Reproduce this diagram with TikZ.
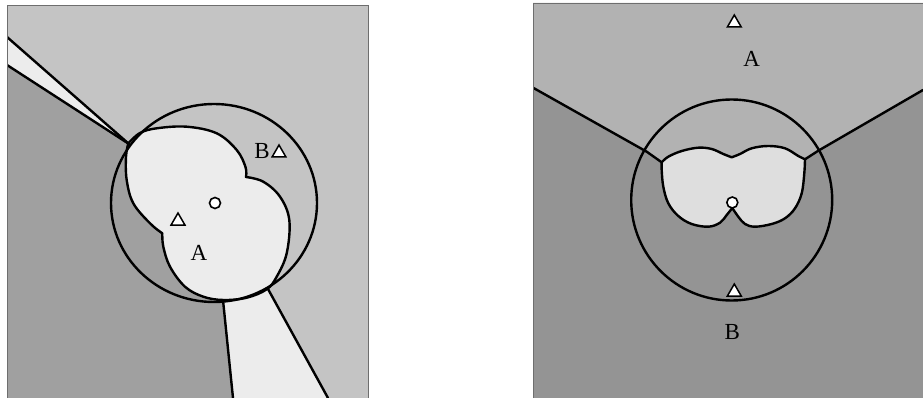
\documentclass[tikz,border=0pt]{standalone}
\usepackage{fontspec}
\setmainfont{Liberation Serif}
\usetikzlibrary{shapes.geometric}
\definecolor{lbg}{RGB}{196,196,196}
\definecolor{ldark}{RGB}{160,160,160}
\definecolor{dotw}{RGB}{236,236,236}
\definecolor{rA}{RGB}{178,178,178}
\definecolor{rB}{RGB}{148,148,148}
\definecolor{rblob}{RGB}{222,222,222}
\definecolor{frame}{RGB}{110,110,110}
\tikzset{
  edge/.style={line width=2.4pt, line join=round, line cap=round},
  tri/.style={regular polygon, regular polygon sides=3, draw, fill=white, inner sep=0pt, minimum size=16pt, line width=1.5pt},
  dotmark/.style={circle, draw, fill=white, inner sep=0pt, minimum size=11pt, line width=1.6pt},
  lab/.style={inner sep=0pt, font=\fontsize{23}{23}\selectfont}
}
\begin{document}
\begin{tikzpicture}[x=1pt,y=-1pt]
\useasboundingbox (0,0) rectangle (923,398);
% ================= LEFT PANEL =================
\begin{scope}
\clip (7,5) rectangle (368,398);
\fill[lbg] (7,5) rectangle (368,398);
% dark region
\fill[ldark] (7,65) -- (129,144) -- (150,180) -- (190,270) -- (223,300) -- (233,398) -- (7,398) -- cycle;
% upper-left strip
\fill[dotw] (7,37) -- (129,144) -- (7,65) -- cycle;
% bottom strip
\fill[dotw] (223,300) -- (268,289) -- (328,398) -- (233,398) -- cycle;
% blob
\path[fill=dotw, draw, edge]
  plot[smooth, tension=0.6] coordinates {(128.3,143.3) (140,133) (156.7,128.3) (186.7,126.7) (216.7,133.3) (236.7,150) (245.5,167) (246,177)}
  -- plot[smooth, tension=0.6] coordinates {(246,177) (263.3,181.7) (280,196.7) (289.3,220) (286.7,253.3) (276.7,276.7) (266.7,289.3) (246.7,297.7) (223.3,300) (203.3,296.7) (185,286.7) (170,266.7) (163.3,246.7) (162.3,233.3)}
  -- plot[smooth, tension=0.6] coordinates {(162.3,233.3) (150,223.3) (133.3,203.3) (126.7,180) (126,156.7) (128.3,143.3)}
  -- cycle;
% lines
\draw[edge] (7,37) -- (129,144);
\draw[edge] (7,65) -- (129,144);
\draw[edge] (223,300) -- (233,398);
\draw[edge] (268,289) -- (328,398);
\draw[edge] (214,203) ellipse [x radius=103, y radius=99];
\end{scope}
\draw[frame, line width=0.8pt] (7,398) -- (7,5) -- (368,5) -- (368,398);
\node[dotmark] (lc) at (215,203) {};
\node[tri] (lt1) at (178,221) {};
\node[tri] (lt2) at (279,153) {};
\node[lab] (lA) at (199,253) {A};
\node[lab] (lB) at (262,151) {B};
% ================= RIGHT PANEL =================
\begin{scope}
\clip (533,3) rectangle (923,398);
\fill[rB] (533,3) rectangle (923,398);
\fill[rA] (533,3) -- (923,3) -- (923,90) -- (818.3,150.7) -- (805,159) -- (732,190) -- (661.7,162.3) -- (646.7,151.7) -- (533,87.7) -- cycle;
\path[fill=rblob, draw, edge]
  plot[smooth, tension=0.6] coordinates {(661.7,162.3) (668.3,156.7) (681.7,151) (698.3,147.7) (711.7,149) (723.3,154) (731.7,157.3)}
  -- plot[smooth, tension=0.6] coordinates {(731.7,157.3) (740,154) (751.7,148.3) (768.3,146) (785,148.3) (798.3,156) (805,159.3)}
  -- plot[smooth, tension=0.6] coordinates {(805,159.3) (804.3,173.3) (801.7,193.3) (795,208.3) (785,218.3) (771.7,224) (755,226.7) (745,224) (738.3,216.7) (732.3,208)}
  -- plot[smooth, tension=0.6] coordinates {(732.3,208) (726.7,215) (720,222.7) (708.3,226.7) (691.7,224) (678.3,216) (668.3,203.3) (663.3,186.7) (661.7,170) (661.7,162.3)}
  -- cycle;
\draw[edge] (533,87.7) -- (646.7,151.7) -- (661.7,162.3);
\draw[edge] (923,90) -- (818.3,150.7) -- (805,159.3);
\draw[edge] (731.7,200) circle [radius=100.5];
\end{scope}
\draw[frame, line width=0.8pt] (533,398) -- (533,3) -- (923,3);
\node[dotmark] (rc) at (732.3,202.5) {};
\node[tri] (rt1) at (734.3,23) {};
\node[tri] (rt2) at (734.3,292) {};
\node[lab] (rA) at (751.7,59) {A};
\node[lab] (rBl) at (732.3,332) {B};
\end{tikzpicture}
\end{document}
